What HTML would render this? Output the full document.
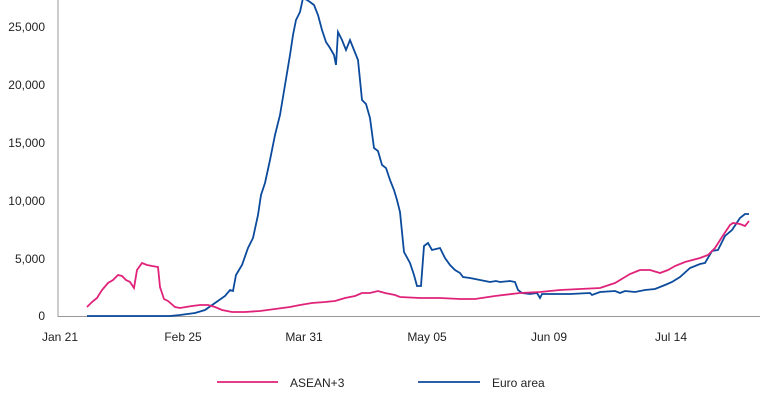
<!DOCTYPE html>
<html><head><style>body{margin:0;background:#fff}svg{display:block}text{font-family:"Liberation Sans",sans-serif;font-size:12px;fill:#222}</style></head><body>
<svg width="763" height="400" viewBox="0 0 763 400">
<g text-anchor="end">
<text x="45" y="320">0</text><text x="45" y="263">5,000</text><text x="45" y="205">10,000</text><text x="45" y="147">15,000</text><text x="45" y="89">20,000</text><text x="45" y="31">25,000</text>
</g>
<g text-anchor="middle">
<text x="60" y="341">Jan 21</text><text x="183" y="341">Feb 25</text><text x="304" y="341">Mar 31</text><text x="427" y="341">May 05</text><text x="549" y="341">Jun 09</text><text x="671" y="341">Jul 14</text>
</g>
<path d="M58,0V316.5H760" fill="none" stroke="#999" stroke-width="1"/>
<polyline fill="none" stroke="#0b4a9c" stroke-width="1.8" points="87,316 170,316 180,315 195,313 205,310 215,303 225,296 230,290 233,291 236,275 242,265 248,248 253,238 258,215 261,195 265,183 270,160 275,135 280,115 285,85 290,55 293,35 296,20 300,12 303,-2 307,0 310,2 314,5 318,15 322,30 326,42 330,48 334,55 336,65 338,32 342,40 346,50 350,40 354,50 358,60 362,100 366,104 370,118 374,148 378,151 382,165 386,168 390,180 394,190 397,200 400,212 404,252 410,263 414,275 417,286 421,286 424,246 428,243 432,250 436,249 440,248 445,258 450,265 455,270 460,273 463,277 470,278 480,280 490,282 496,281 500,282 510,281 515,282 518,290 522,293 530,294 537,293 540,298 542,294 550,294 560,294 570,294 590,293 592,295 600,292 615,291 620,293 625,291 635,292 645,290 655,289 665,285 672,282 680,277 690,268 700,264 705,263 712,251 718,250 725,236 732,230 740,218 745,214 749,214"/>
<polyline fill="none" stroke="#e0237a" stroke-width="1.8" points="87,307 92,302 97,298 102,290 108,283 113,280 118,275 122,276 126,280 130,282 134,288 137,270 142,263 147,265 152,266 158,267 160,287 164,299 168,301 175,307 180,308 186,307 192,306 200,305 208,305 215,307 222,310 232,312 245,312 260,311 275,309 290,307 300,305 312,303 325,302 335,301 345,298 355,296 362,293 370,293 378,291 385,293 395,295 400,297 420,298 440,298 460,299 475,299 495,296 520,293 540,292 560,290 580,289 600,288 615,283 630,274 640,270 650,270 660,273 668,270 675,266 685,262 700,258 708,255 715,248 722,237 730,225 733,223 740,224 745,226 749,221"/>
<line x1="217" y1="382" x2="278" y2="382" stroke="#e0237a" stroke-width="1.8"/>
<text x="290" y="387">ASEAN+3</text>
<line x1="418" y1="382" x2="480" y2="382" stroke="#0b4a9c" stroke-width="1.8"/>
<text x="492" y="387">Euro area</text>
</svg>
</body></html>
